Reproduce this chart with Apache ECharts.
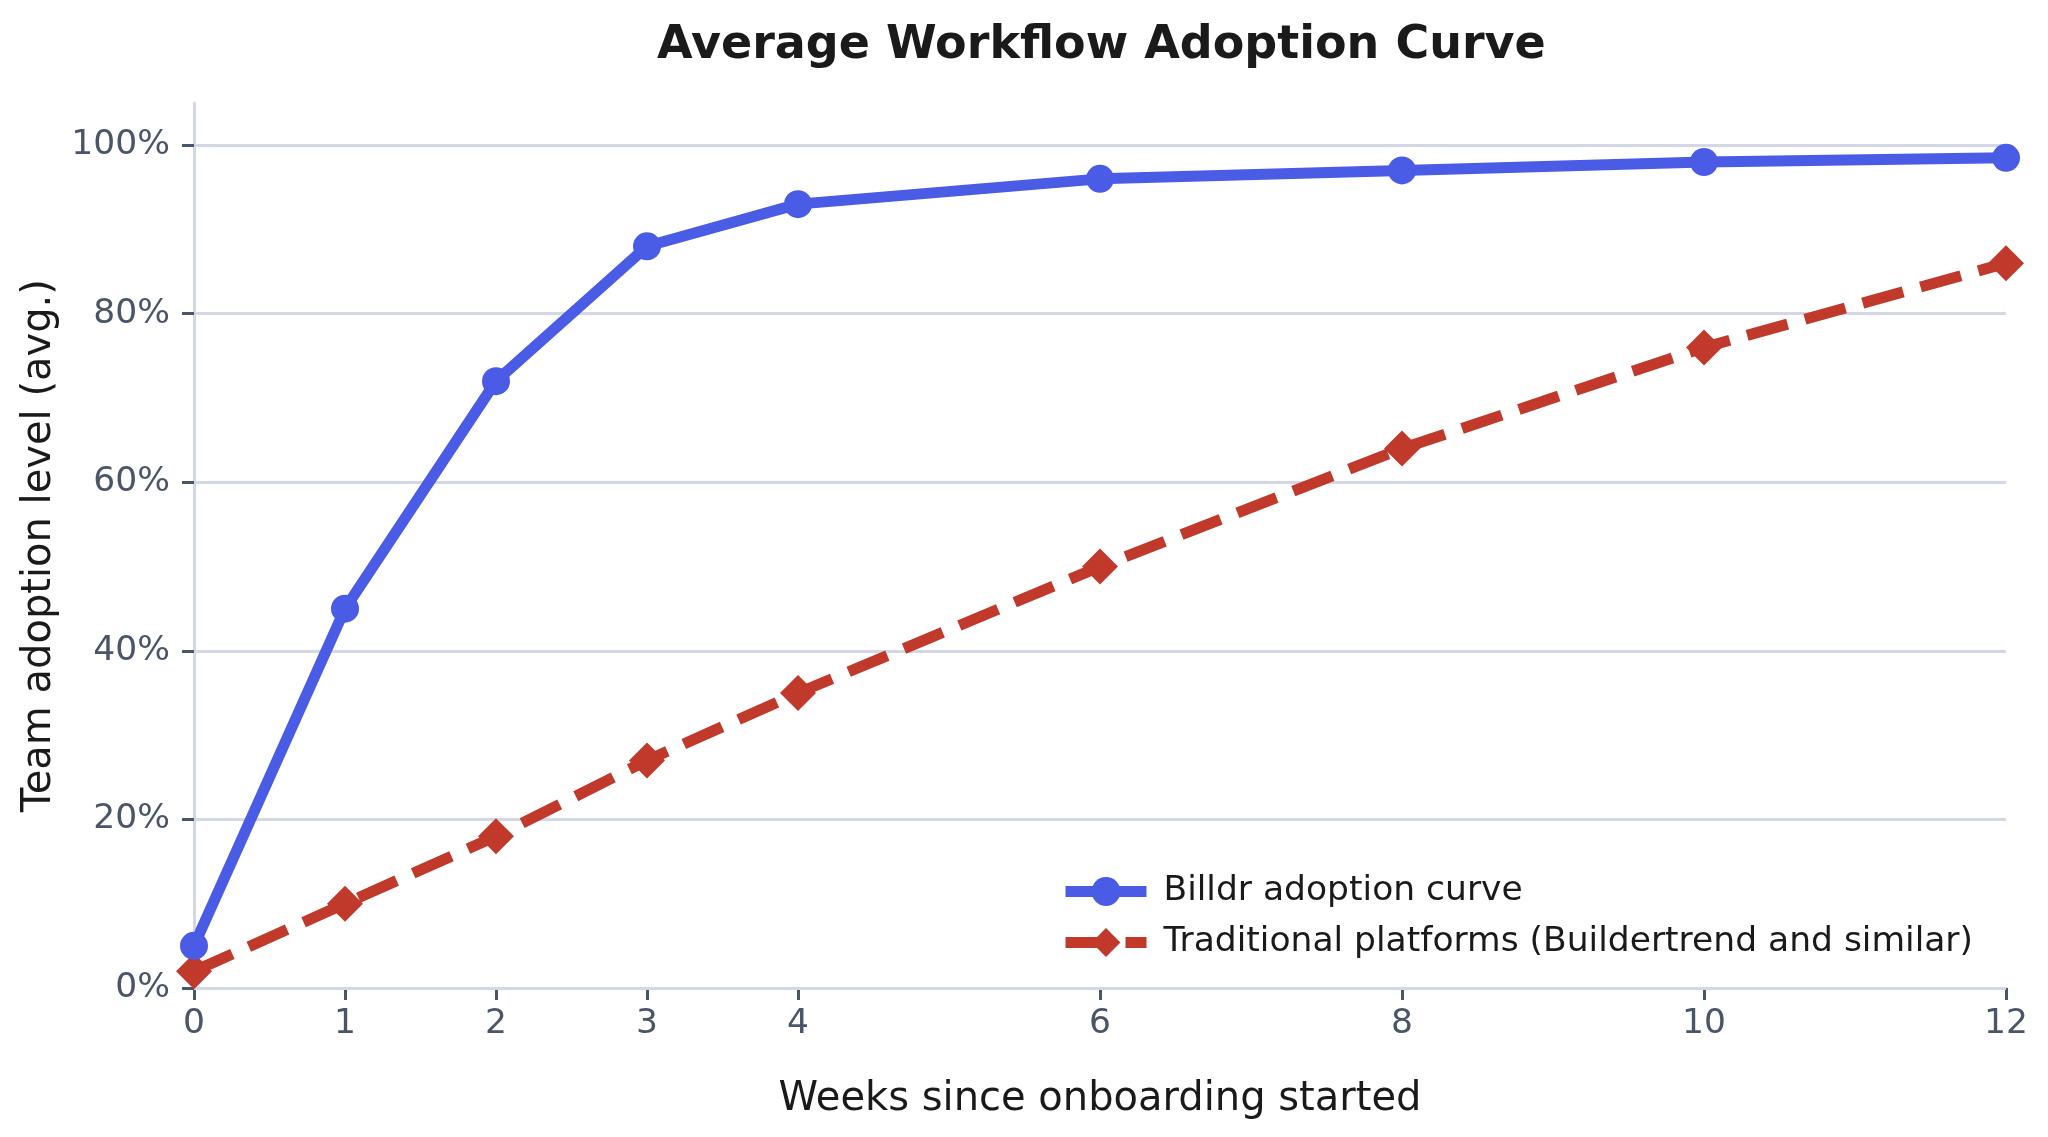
<!DOCTYPE html>
<html>
<head>
<meta charset="utf-8">
<title>Average Workflow Adoption Curve</title>
<script src="https://cdn.jsdelivr.net/npm/echarts@6/dist/echarts.min.js"></script>
<style>
    html, body { margin: 0; padding: 0; background: #fff; }
    #adoption-chart { width: 2048px; height: 1137px; }
</style>
</head>
<body>
<div id="adoption-chart"></div>
<script>
// weeks since onboarding started
var weeks = [0, 1, 2, 3, 4, 6, 8, 10, 12];
// team adoption level (%)
var billdr = [5, 45, 72, 88, 93, 96, 97, 98, 98.5];
var traditional = [2, 10, 18, 27, 35, 50, 64, 76, 86];

var xTicks = [0, 1, 2, 3, 4, 6, 8, 10, 12];
var yTicks = [0, 20, 40, 60, 80, 100];

var seriesNames = ['Billdr adoption curve', 'Traditional platforms (Buildertrend and similar)'];

function pairs(xs, ys) {
    return xs.map(function (x, i) { return [x, ys[i]]; });
}

//采用曲线
function adoptionChart() {
    var chart = echarts.init(document.getElementById('adoption-chart'));
    var font = 'DejaVu Sans';
    var gridColor = '#d4d7e6';
    var tickColor = '#4a5568';
    var option = {
        animation: false,
        title: {
            text: 'Average Workflow Adoption Curve',
            left: 652,
            top: 18,
            textStyle: {
                fontFamily: font,
                fontSize: 46,
                fontWeight: 'bold',
                color: '#1a1a1a'
            }
        },
        grid: {
            left: 194,
            right: 42,
            top: 103,
            bottom: 149
        },
        legend: {
            orient: 'vertical',
            left: 1055,
            top: 869,
            itemWidth: 81,
            itemHeight: 36,
            itemGap: 16,
            data: seriesNames,
            lineStyle: { width: 11 },
            textStyle: {
                fontFamily: font,
                fontSize: 34.5,
                color: '#1a1a1a',
                padding: [0, 0, 0, 12]
            }
        },
        xAxis: {
            type: 'value',
            min: 0,
            max: 12,
            name: 'Weeks since onboarding started',
            nameLocation: 'middle',
            nameGap: 92,
            nameTextStyle: { fontFamily: font, fontSize: 40, color: '#1a1a1a' },
            axisLine: { show: true, lineStyle: { color: gridColor, width: 3 } },
            axisTick: { show: true, length: 12, customValues: xTicks, lineStyle: { color: tickColor, width: 3 } },
            axisLabel: { customValues: xTicks, margin: 19, fontFamily: font, fontSize: 34.5, color: tickColor },
            splitLine: { show: false }
        },
        yAxis: {
            type: 'value',
            min: 0,
            max: 105,
            name: 'Team adoption level (avg.)',
            nameLocation: 'middle',
            nameGap: 134,
            nameTextStyle: { fontFamily: font, fontSize: 40, color: '#1a1a1a' },
            axisLine: { show: true, lineStyle: { color: gridColor, width: 3 } },
            axisTick: { show: true, length: 12, customValues: yTicks, lineStyle: { color: tickColor, width: 3 } },
            axisLabel: { customValues: yTicks, margin: 24, fontFamily: font, fontSize: 34.5, color: tickColor, formatter: '{value}%' },
            splitLine: { show: false }
        },
        series: [
            {
                name: 'gridlines',
                type: 'line',
                data: [],
                z: 1,
                silent: true,
                markLine: {
                    silent: true,
                    z: 1,
                    symbol: ['none', 'none'],
                    label: { show: false },
                    lineStyle: { color: gridColor, width: 3, type: 'solid' },
                    emphasis: { disabled: true },
                    data: yTicks.map(function (v) { return { yAxis: v }; })
                }
            },
            {
                name: seriesNames[0],
                type: 'line',
                z: 4,
                data: pairs(weeks, billdr),
                symbol: 'circle',
                symbolSize: 28,
                color: '#4a5be6',
                lineStyle: { width: 11, color: '#4a5be6', join: 'round' },
                itemStyle: { color: '#4a5be6', borderWidth: 0 },
                emphasis: { disabled: true }
            },
            {
                name: seriesNames[1],
                type: 'line',
                z: 3,
                data: pairs(weeks, traditional),
                symbol: 'diamond',
                symbolSize: 36,
                color: '#c0392b',
                lineStyle: { width: 11, color: '#c0392b', type: [42, 18] },
                itemStyle: { color: '#c0392b', borderWidth: 0 },
                emphasis: { disabled: true }
            }
        ]
    };
    chart.setOption(option);
}

adoptionChart();
</script>
</body>
</html>
